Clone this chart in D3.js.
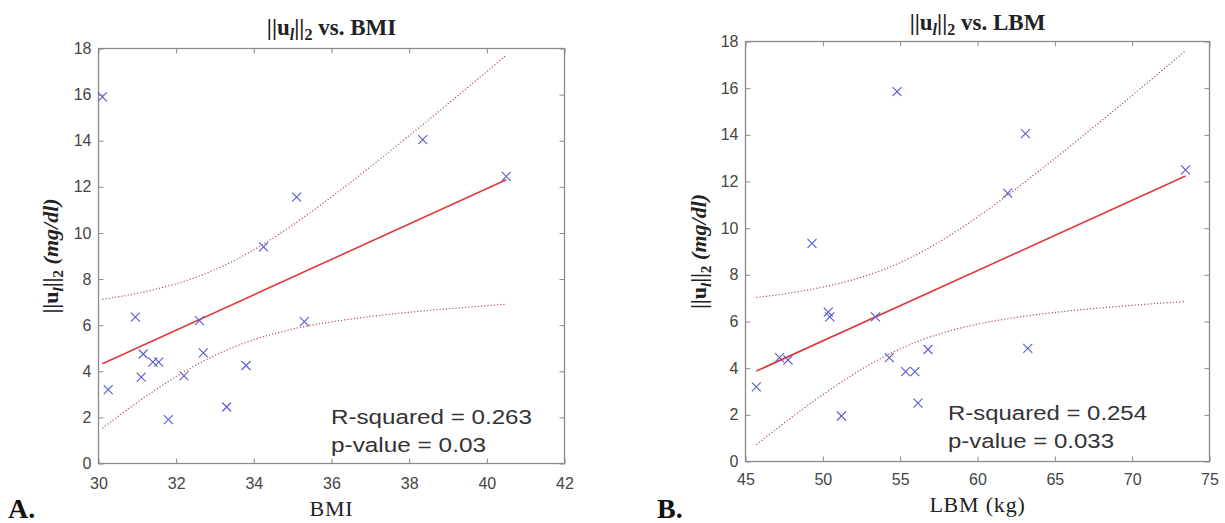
<!DOCTYPE html>
<html>
<head>
<meta charset="utf-8">
<script src="https://cdn.jsdelivr.net/npm/d3@7"></script>
<style>
body { margin: 0; background: #fff; }
svg { display: block; }
.tick text { font-family: "Liberation Sans", Arial, sans-serif; font-size: 16px; fill: #454545; }
.tick line { stroke: #8a8a8a; }
</style>
</head>
<body>
<svg id="fig" width="1225" height="523"></svg>
<script>
// panel A: ||u_l||_2 against BMI
const bmi = [30.1, 30.25, 30.95, 31.15, 31.1, 31.4, 31.55, 31.8, 32.2, 32.6, 32.7, 33.3, 33.8, 34.25, 35.1, 35.3, 38.35, 40.5];
const ulA = [15.9, 3.2, 6.35, 4.75, 3.75, 4.4, 4.4, 1.9, 3.8, 6.2, 4.8, 2.45, 4.25, 9.4, 11.55, 6.15, 14.05, 12.45];

// panel B: ||u_l||_2 against lean body mass
const lbm = [45.7, 47.2, 47.75, 49.3, 50.35, 50.45, 51.2, 53.4, 54.3, 54.8, 55.35, 55.95, 56.15, 56.8, 61.95, 63.1, 63.25, 73.45];
const ulB = [3.2, 4.45, 4.35, 9.35, 6.4, 6.2, 1.95, 6.2, 4.45, 15.85, 3.85, 3.85, 2.5, 4.8, 11.5, 14.05, 4.85, 12.5];

const bmiTicks = [30, 32, 34, 36, 38, 40, 42];
const lbmTicks = [45, 50, 55, 60, 65, 70, 75];
const ulTicks = [0, 2, 4, 6, 8, 10, 12, 14, 16, 18];

const rSquared = ["0.263", "0.254"];
const pValues = ["0.03", "0.033"];
const tCrit = 2.12; // t(0.975, n - 2) with n = 18

const svg = d3.select("#fig");

function fitLine(xs, ys) {
    let n = xs.length;
    let mx = d3.mean(xs), my = d3.mean(ys);
    let sxx = d3.sum(xs, (x) => (x - mx) * (x - mx));
    let sxy = d3.sum(xs, (x, i) => (x - mx) * (ys[i] - my));
    let syy = d3.sum(ys, (y) => (y - my) * (y - my));
    let slope = sxy / sxx;
    let intercept = my - slope * mx;
    let s = Math.sqrt((syy - slope * sxy) / (n - 2));
    return {
        at: (x) => intercept + slope * x,
        half: (x) => tCrit * s * Math.sqrt(1 / n + ((x - mx) * (x - mx)) / sxx),
    };
}

// ||u_l||_2 written with tspans
function normTspans(text, size) {
    text.append("tspan").text("||");
    text.append("tspan").text("u").attr("font-weight", "bold");
    text.append("tspan").text("l").attr("font-style", "italic")
        .attr("font-size", size * 0.7).attr("dy", size * 0.22);
    text.append("tspan").text("||").attr("dy", -size * 0.22);
    text.append("tspan").text("2").attr("font-size", size * 0.7).attr("dy", size * 0.22);
}

function drawPanel(p) {
    let x = d3.scaleLinear().domain(p.xDomain).range([p.left, p.right]);
    let y = d3.scaleLinear().domain([0, 18]).range([p.bottom, p.top]);
    let g = svg.append("g");

    g.append("g")
        .attr("transform", `translate(0,${p.bottom})`)
        .call(d3.axisBottom(x).tickValues(p.xTicks).tickSizeInner(-5).tickSizeOuter(0).tickPadding(p.xPad))
        .call((a) => a.select(".domain").remove());
    g.append("g")
        .attr("transform", `translate(0,${p.top})`)
        .call(d3.axisTop(x).tickValues(p.xTicks).tickSizeInner(-5).tickSizeOuter(0).tickFormat(""))
        .call((a) => a.select(".domain").remove());
    g.append("g")
        .attr("transform", `translate(${p.left},0)`)
        .call(d3.axisLeft(y).tickValues(ulTicks).tickSizeInner(-5).tickSizeOuter(0).tickPadding(7))
        .call((a) => a.select(".domain").remove());
    g.append("g")
        .attr("transform", `translate(${p.right},0)`)
        .call(d3.axisRight(y).tickValues(ulTicks).tickSizeInner(-5).tickSizeOuter(0).tickFormat(""))
        .call((a) => a.select(".domain").remove());

    g.append("rect")
        .attr("x", p.left).attr("y", p.top)
        .attr("width", p.right - p.left).attr("height", p.bottom - p.top)
        .attr("fill", "none").attr("stroke", "#8a8a8a").attr("stroke-width", 1.3);

    // regression line and 95% confidence bounds
    let f = fitLine(p.xs, p.ys);
    let x0 = d3.min(p.xs), x1 = d3.max(p.xs);
    let grid = d3.range(0, 101).map((i) => x0 + ((x1 - x0) * i) / 100);
    let line = d3.line().x((d) => x(d[0])).y((d) => y(d[1]));

    g.append("path")
        .attr("d", line(grid.map((v) => [v, f.at(v) + f.half(v)])))
        .attr("fill", "none").attr("stroke", "#b05050").attr("stroke-width", 1.2)
        .attr("stroke-dasharray", "1.2 2");
    g.append("path")
        .attr("d", line(grid.map((v) => [v, f.at(v) - f.half(v)])))
        .attr("fill", "none").attr("stroke", "#b05050").attr("stroke-width", 1.2)
        .attr("stroke-dasharray", "1.2 2");
    g.append("path")
        .attr("d", line([[x0, f.at(x0)], [x1, f.at(x1)]]))
        .attr("fill", "none").attr("stroke", "#e0393b").attr("stroke-width", 1.6);

    g.selectAll()
        .data(p.xs)
        .enter()
        .append("path")
        .attr("transform", (d, i) => `translate(${x(d)},${y(p.ys[i])})`)
        .attr("d", "M-4.5,-4.5L4.5,4.5M-4.5,4.5L4.5,-4.5")
        .attr("stroke", "#5a5ad0").attr("stroke-width", 1.1).attr("fill", "none");

    // title
    let title = g.append("text")
        .attr("x", (p.left + p.right) / 2).attr("y", p.titleY)
        .attr("text-anchor", "middle")
        .attr("font-family", "Liberation Serif, serif").attr("font-weight", "bold")
        .attr("font-size", 23).attr("fill", "#222");
    normTspans(title, 23);
    title.append("tspan").text(" vs. " + p.name).attr("dy", -23 * 0.22);

    // y label
    let ylab = g.append("text")
        .attr("transform", `translate(${p.yLabX},${(p.top + p.bottom) / 2}) rotate(-90)`)
        .attr("text-anchor", "middle")
        .attr("font-family", "Liberation Serif, serif").attr("font-weight", "bold")
        .attr("font-size", 22).attr("fill", "#222");
    normTspans(ylab, 22);
    ylab.append("tspan").text(" (mg/dl)").attr("font-style", "italic").attr("dy", -22 * 0.22);

    g.append("text")
        .attr("x", (p.left + p.right) / 2).attr("y", p.xLabY)
        .attr("text-anchor", "middle")
        .attr("font-family", "Liberation Serif, serif").attr("font-size", 22)
        .attr("letter-spacing", 0.8).attr("fill", "#222")
        .text(p.xLabel);

    g.append("text")
        .attr("x", p.letterX).attr("y", 518)
        .attr("font-family", "Liberation Serif, serif").attr("font-weight", "bold")
        .attr("font-size", 28).attr("fill", "#111")
        .text(p.letter);

    let stats = [
        ["R-squared = " + p.r2, p.statY, p.r2W],
        ["p-value = " + p.pv, p.statY + 28, p.pvW],
    ];
    g.selectAll()
        .data(stats)
        .enter()
        .append("text")
        .attr("x", p.statX).attr("y", (d) => d[1])
        .attr("textLength", (d) => d[2]).attr("lengthAdjust", "spacingAndGlyphs")
        .attr("font-family", "Liberation Sans, Arial, sans-serif").attr("font-size", 20.5)
        .attr("fill", "#333")
        .text((d) => d[0]);
}

drawPanel({
    xs: bmi, ys: ulA, xDomain: [30, 42], xTicks: bmiTicks,
    left: 98.5, right: 564.5, top: 48.5, bottom: 463.5, xPad: 14,
    name: "BMI", xLabel: "BMI", letter: "A.", letterX: 8,
    titleY: 35, yLabX: 58, xLabY: 516,
    r2: rSquared[0], pv: pValues[0], statX: 331, statY: 424, r2W: 201, pvW: 155,
});
drawPanel({
    xs: lbm, ys: ulB, xDomain: [45, 75], xTicks: lbmTicks,
    left: 745.5, right: 1209.5, top: 41.5, bottom: 461.5, xPad: 12,
    name: "LBM", xLabel: "LBM (kg)", letter: "B.", letterX: 657,
    titleY: 30, yLabX: 706, xLabY: 512,
    r2: rSquared[1], pv: pValues[1], statX: 948, statY: 420, r2W: 199, pvW: 166,
});
</script>
</body>
</html>
